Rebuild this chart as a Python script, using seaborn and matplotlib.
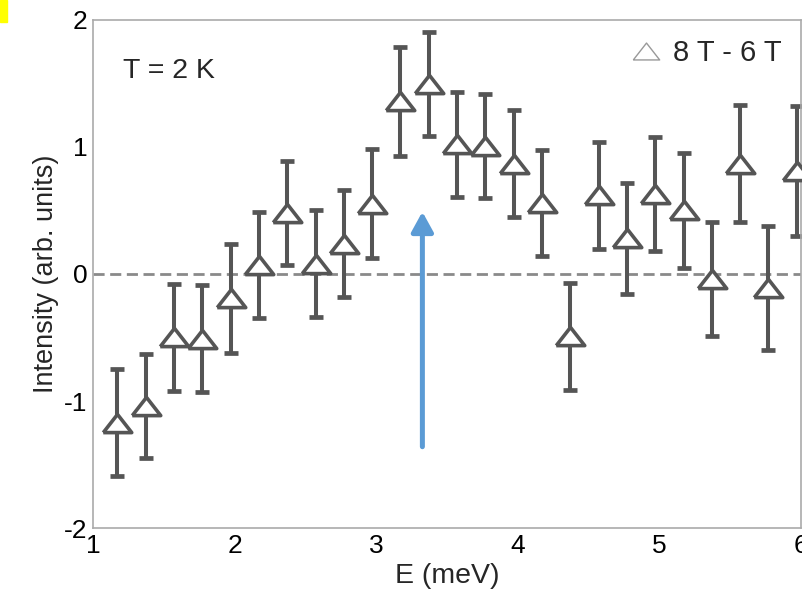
import matplotlib
matplotlib.use("Agg")
import matplotlib.pyplot as plt
from matplotlib.lines import Line2D
from matplotlib.patches import Rectangle
import seaborn as sns
import pandas as pd

# ---- data ----
energy = [1.17, 1.37, 1.57, 1.77, 1.97, 2.17, 2.37, 2.57, 2.77, 2.97,
          3.17, 3.37, 3.57, 3.77, 3.97, 4.17, 4.37, 4.57, 4.77, 4.97,
          5.17, 5.37, 5.57, 5.77, 5.97]
intensity = [-1.17, -1.04, -0.50, -0.51, -0.19, 0.07, 0.48, 0.08, 0.24, 0.555,
             1.36, 1.495, 1.02, 1.01, 0.87, 0.56, -0.49, 0.62, 0.28, 0.63,
             0.50, -0.04, 0.87, -0.11, 0.81]
error = [0.42, 0.41, 0.42, 0.42, 0.43, 0.42, 0.41, 0.42, 0.42, 0.43,
         0.43, 0.41, 0.41, 0.41, 0.42, 0.42, 0.42, 0.42, 0.44, 0.45,
         0.45, 0.45, 0.46, 0.49, 0.51]
x_ticks = [1, 2, 3, 4, 5, 6]
y_ticks = [-2, -1, 0, 1, 2]
arrow_x = 3.325
arrow_y = (-1.36, 0.49)
legend_label = "8 T - 6 T"
annotation = "T = 2 K"

df = pd.DataFrame({"E": energy, "I": intensity, "err": error})

sns.set_theme(style="white")
plt.rcParams["font.family"] = ["Liberation Sans", "DejaVu Sans"]

fig = plt.figure(figsize=(8.02, 5.95), dpi=100)
ax = fig.add_axes([0.1163, 0.1126, 0.8825, 0.8538])

dark = "#555555"
tri = [(-1, -0.64), (1, -0.64), (0, 0.64), (-1, -0.64)]

ax.axhline(0, color="#8a8a8a", lw=2, ls=(0, (4, 2)), zorder=1)

ax.errorbar(df["E"], df["I"], yerr=df["err"], fmt="none", ecolor=dark,
            elinewidth=2.9, capsize=4.7, capthick=3.4, zorder=2)
sns.scatterplot(data=df, x="E", y="I", marker=tri, s=20.5 ** 2,
                facecolor="white", edgecolor=dark, linewidth=2.6,
                zorder=3, ax=ax, legend=False)

ax.annotate("", xy=(arrow_x, arrow_y[1]), xytext=(arrow_x, arrow_y[0]),
            arrowprops=dict(arrowstyle="-|>,head_length=0.6,head_width=0.33",
                            color="#5b9bd5", lw=3.6, mutation_scale=20,
                            shrinkA=0, shrinkB=0), zorder=4)

ax.set_xlim(1, 6)
ax.set_ylim(-2, 2)
ax.set_xticks(x_ticks)
ax.set_yticks(y_ticks)
ax.set_xticklabels([str(v) for v in x_ticks])
ax.set_yticklabels([str(v) for v in y_ticks])
ax.tick_params(direction="in", length=5, width=1, color="#999999",
               labelsize=19, labelcolor="black", pad=4)
for s in ax.spines.values():
    s.set_color("#aaaaaa")
    s.set_linewidth(1.2)

ax.set_xlabel("E (meV)", fontsize=20.5, labelpad=4)
ax.set_ylabel("Intensity (arb. units)", fontsize=19.5, labelpad=4)

ax.text(0.042, 0.90, annotation, transform=ax.transAxes, fontsize=20.5,
        va="center", ha="left")

handle = Line2D([], [], ls="none", marker=tri, markersize=19,
                markerfacecolor="white", markeredgecolor="#999999",
                markeredgewidth=1.0)
ax.legend([handle], [legend_label], loc="upper right",
          frameon=False, fontsize=21, handletextpad=0.35, borderaxespad=0.25,
          handlelength=1.2)

fig.patches.append(Rectangle((0, 1 - 22 / 595), 7 / 802, 22 / 595,
                             transform=fig.transFigure, color="#ffff00",
                             zorder=10))

fig.savefig("out.png", dpi=100)
